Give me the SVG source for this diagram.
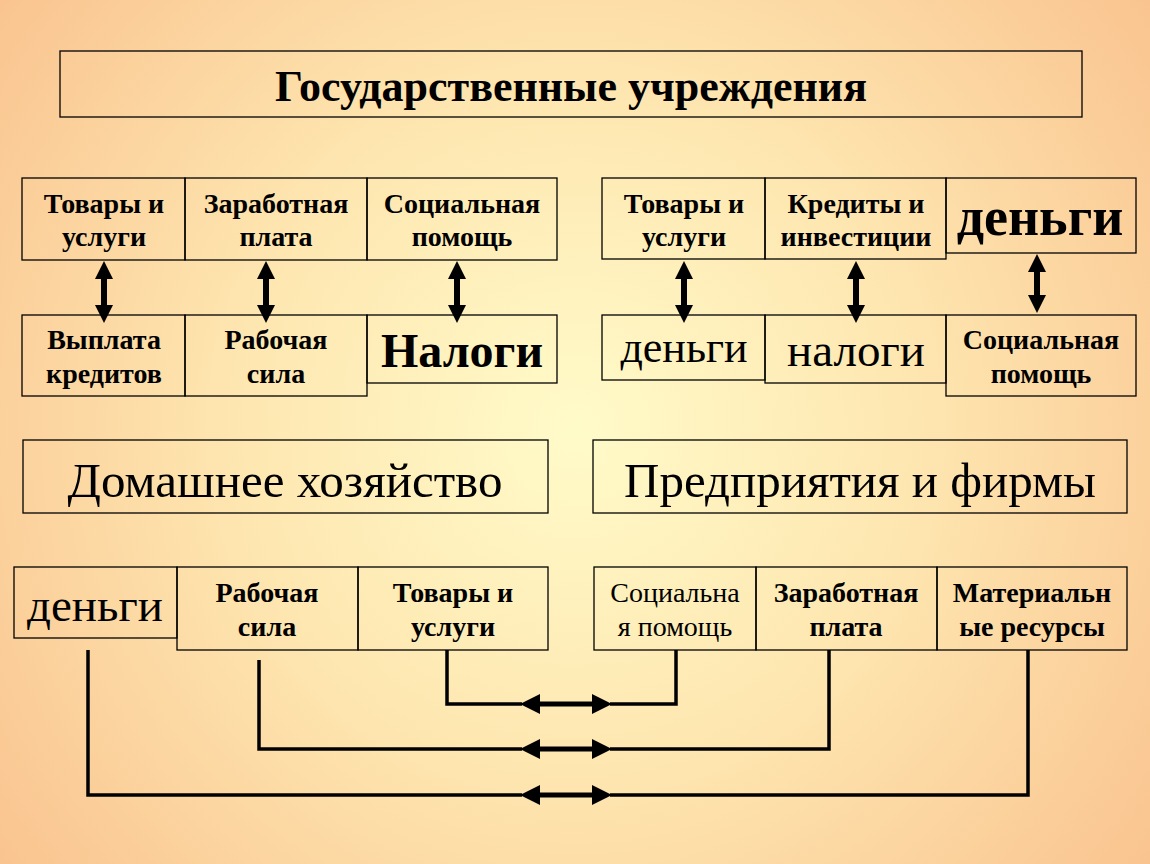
<svg xmlns="http://www.w3.org/2000/svg" width="1150" height="864" viewBox="0 0 1150 864">
<defs>
<radialGradient id="bg" cx="575" cy="430" r="760" gradientUnits="userSpaceOnUse">
<stop offset="0" stop-color="#FFFBC9"/>
<stop offset="0.45" stop-color="#FEE6B0"/>
<stop offset="1" stop-color="#F9C08C"/>
</radialGradient>
</defs>
<style>
.box{fill:none;stroke:#000;stroke-width:1.3}
.t{font-family:"Liberation Serif","Times New Roman",serif;fill:#000;text-anchor:middle}
.b{font-weight:bold}
.s{font-size:28px}
.ln{fill:none;stroke:#000;stroke-width:3.5}
.ar{fill:#000}
</style>
<rect width="1150" height="864" fill="url(#bg)"/>

<g id="title"><rect class="box" x="60" y="51" width="1022" height="66"/><text class="t b" x="571" y="101" font-size="44">Государственные учреждения</text></g>

<g id="l-tovary"><rect class="box" x="22" y="178" width="163" height="82"/><text class="t b s" x="104" y="213">Товары и</text><text class="t b s" x="104" y="246">услуги</text></g>
<g id="l-zarplata"><rect class="box" x="185" y="178" width="182" height="82"/><text class="t b s" x="276" y="213">Заработная</text><text class="t b s" x="276" y="246">плата</text></g>
<g id="l-socpom"><rect class="box" x="367" y="178" width="190" height="82"/><text class="t b s" x="462" y="213">Социальная</text><text class="t b s" x="462" y="246">помощь</text></g>
<g id="l-vyplata"><rect class="box" x="22" y="315" width="163" height="81"/><text class="t b s" x="104" y="349">Выплата</text><text class="t b s" x="104" y="383">кредитов</text></g>
<g id="l-rabsila"><rect class="box" x="185" y="315" width="182" height="81"/><text class="t b s" x="276" y="349">Рабочая</text><text class="t b s" x="276" y="383">сила</text></g>
<g id="l-nalogi"><rect class="box" x="367" y="315" width="190" height="68"/><text class="t b" x="462" y="367" font-size="48">Налоги</text></g>

<g id="r-tovary"><rect class="box" x="602" y="178" width="163" height="81"/><text class="t b s" x="684" y="213">Товары и</text><text class="t b s" x="684" y="246">услуги</text></g>
<g id="r-kredity"><rect class="box" x="765" y="178" width="181" height="81"/><text class="t b s" x="856" y="213">Кредиты и</text><text class="t b s" x="856" y="246">инвестиции</text></g>
<g id="r-dengi"><rect class="box" x="946" y="178" width="190" height="75"/><text class="t b" x="1040" y="235" font-size="54">деньги</text></g>
<g id="r-dengi2"><rect class="box" x="602" y="315" width="163" height="65"/><text class="t" x="684" y="362" font-size="44">деньги</text></g>
<g id="r-nalogi"><rect class="box" x="765" y="315" width="181" height="68"/><text class="t" x="856" y="366" font-size="47">налоги</text></g>
<g id="r-socpom"><rect class="box" x="946" y="315" width="190" height="81"/><text class="t b s" x="1041" y="349">Социальная</text><text class="t b s" x="1041" y="383">помощь</text></g>

<g id="household"><rect class="box" x="23" y="440" width="525" height="73"/><text class="t" x="285" y="497" font-size="49">Домашнее хозяйство</text></g>
<g id="firms"><rect class="box" x="593" y="440" width="534" height="73"/><text class="t" x="860" y="497" font-size="49">Предприятия и фирмы</text></g>

<g id="h-dengi"><rect class="box" x="14" y="567" width="163" height="71"/><text class="t" x="95" y="621" font-size="47">деньги</text></g>
<g id="h-rabsila"><rect class="box" x="177" y="567" width="181" height="83"/><text class="t b s" x="267" y="602">Рабочая</text><text class="t b s" x="267" y="636">сила</text></g>
<g id="h-tovary"><rect class="box" x="358" y="567" width="190" height="83"/><text class="t b s" x="453" y="602">Товары и</text><text class="t b s" x="453" y="636">услуги</text></g>
<g id="f-socpom"><rect class="box" x="594" y="567" width="162" height="83"/><text class="t s" x="675" y="602">Социальна</text><text class="t s" x="675" y="636">я помощь</text></g>
<g id="f-zarplata"><rect class="box" x="756" y="567" width="181" height="83"/><text class="t b s" x="846" y="602">Заработная</text><text class="t b s" x="846" y="636">плата</text></g>
<g id="f-material"><rect class="box" x="937" y="567" width="190" height="83"/><text class="t b s" x="1032" y="602">Материальн</text><text class="t b s" x="1032" y="636">ые ресурсы</text></g>

<g id="connectors">
<g class="ar">
<path d="M104 261 L113 279 L107 279 L107 305 L113 305 L104 323 L95 305 L101 305 L101 279 L95 279 Z"/>
<path d="M266 261 L275 279 L269 279 L269 305 L275 305 L266 323 L257 305 L263 305 L263 279 L257 279 Z"/>
<path d="M457 261 L466 279 L460 279 L460 305 L466 305 L457 323 L448 305 L454 305 L454 279 L448 279 Z"/>
<path d="M684 261 L693 279 L687 279 L687 305 L693 305 L684 323 L675 305 L681 305 L681 279 L675 279 Z"/>
<path d="M856 261 L865 279 L859 279 L859 305 L865 305 L856 323 L847 305 L853 305 L853 279 L847 279 Z"/>
<path d="M1037 254 L1046 272 L1040 272 L1040 295 L1046 295 L1037 313 L1028 295 L1034 295 L1034 272 L1028 272 Z"/>
</g>
<polyline class="ln" points="447,650 447,704 522,704"/>
<polyline class="ln" points="610,704 676,704 676,650"/>
<polyline class="ln" points="259,660 259,749 522,749"/>
<polyline class="ln" points="610,749 829,749 829,650"/>
<polyline class="ln" points="88,650 88,795 522,795"/>
<polyline class="ln" points="610,795 1028,795 1028,650"/>
<g class="ar">
<path d="M520 704 L540 694 L540 701.5 L592 701.5 L592 694 L612 704 L592 714 L592 706.5 L540 706.5 L540 714 Z"/>
<path d="M520 749 L540 739 L540 746.5 L592 746.5 L592 739 L612 749 L592 759 L592 751.5 L540 751.5 L540 759 Z"/>
<path d="M520 795 L540 785 L540 792.5 L592 792.5 L592 785 L612 795 L592 805 L592 797.5 L540 797.5 L540 805 Z"/>
</g>
</g>
</svg>
